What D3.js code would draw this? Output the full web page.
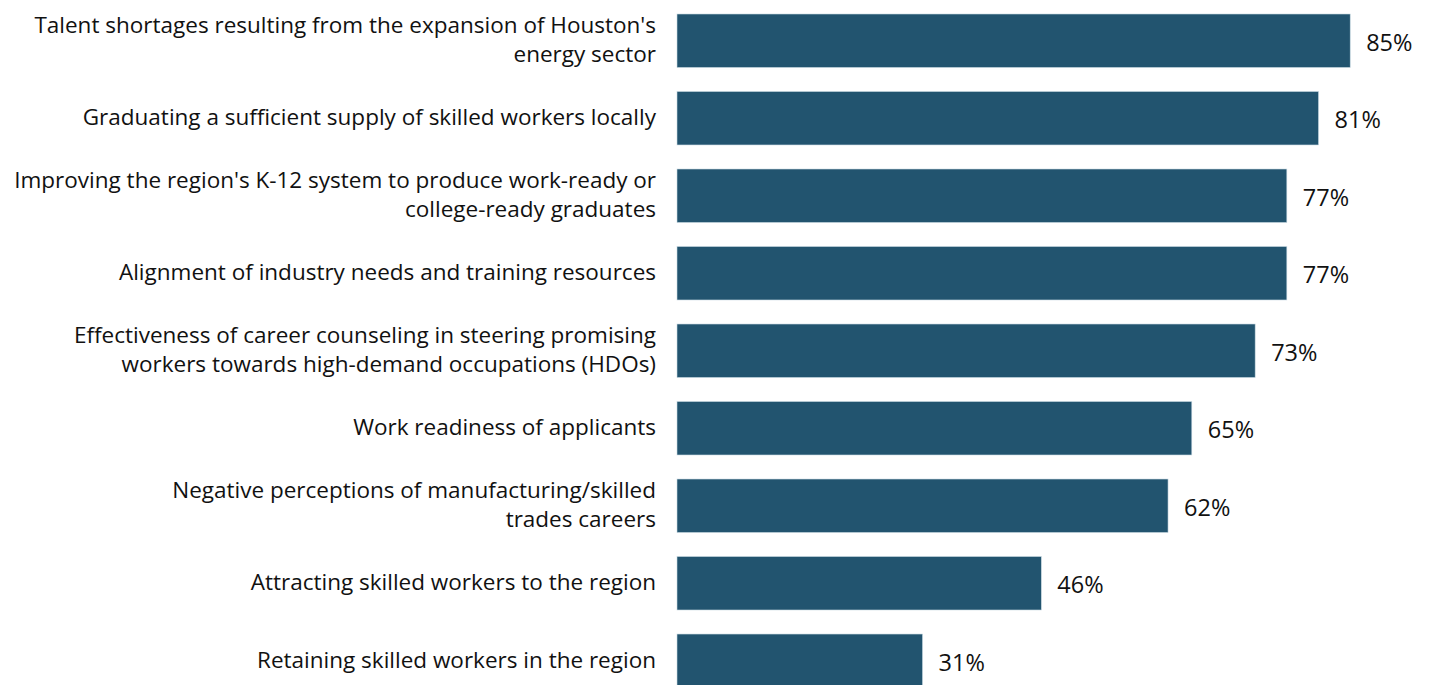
<!DOCTYPE html>
<html>
<head>
<meta charset="utf-8">
<script src="https://cdn.jsdelivr.net/npm/d3@7"></script>
<style>
  html, body { margin: 0; padding: 0; background: #fff; }
  svg { display: block; }
</style>
</head>
<body>
<div id="chart"></div>
<script>
// Category labels (already split into lines as in the original)
const categories = [
    ["Talent shortages resulting from the expansion of Houston's", "energy sector"],
    ["Graduating a sufficient supply of skilled workers locally"],
    ["Improving the region's K-12 system to produce work-ready or", "college-ready graduates"],
    ["Alignment of industry needs and training resources"],
    ["Effectiveness of career counseling in steering promising", "workers towards high-demand occupations (HDOs)"],
    ["Work readiness of applicants"],
    ["Negative perceptions of manufacturing/skilled", "trades careers"],
    ["Attracting skilled workers to the region"],
    ["Retaining skilled workers in the region"]
];
const values = [85, 81, 77, 77, 73, 65, 62, 46, 31];

const width = 1432, height = 685;
const barColor = "#22546f";
const font = "'Open Sans', sans-serif";

const svg = d3.select("#chart").append("svg")
    .attr("width", width)
    .attr("height", height);

const keys = categories.map((c, i) => i);

const x = d3.scaleLinear()
    .domain([0, 100])
    .range([677, 1469]);

const y = d3.scaleBand()
    .domain(keys)
    .range([14, 687.5])
    .paddingInner(0.31)
    .paddingOuter(0);

// bars
svg.selectAll("rect.bar")
    .data(values)
    .enter()
    .append("rect")
    .attr("class", "bar")
    .attr("x", x(0))
    .attr("y", (d, i) => y(i))
    .attr("width", d => x(d) - x(0))
    .attr("height", y.bandwidth())
    .attr("fill", barColor)
    .attr("stroke", "#c9d9e2")
    .attr("stroke-width", 0.6);

// value labels
svg.selectAll("text.value")
    .data(values)
    .enter()
    .append("text")
    .attr("class", "value")
    .attr("x", d => x(d) + 16)
    .attr("y", (d, i) => y(i) + y.bandwidth() / 2 + 2)
    .attr("dy", "0.35em")
    .attr("fill", "#111")
    .style("font-family", font)
    .style("font-size", "23.5px")
    .text(d => d + "%");

// category labels
const lineH = 28.5;
const labels = svg.selectAll("text.cat")
    .data(categories)
    .enter()
    .append("text")
    .attr("class", "cat")
    .attr("text-anchor", "end")
    .attr("fill", "#111")
    .style("font-family", font)
    .style("font-size", "22.5px");

labels.each(function(lines, i) {
    const cy = y(i) + y.bandwidth() / 2 - 1;
    d3.select(this).selectAll("tspan")
        .data(lines)
        .enter()
        .append("tspan")
        .attr("x", 656)
        .attr("y", (d, j) => cy + (j - (lines.length - 1) / 2) * lineH)
        .attr("dy", "0.35em")
        .text(d => d);
});
</script>
</body>
</html>
